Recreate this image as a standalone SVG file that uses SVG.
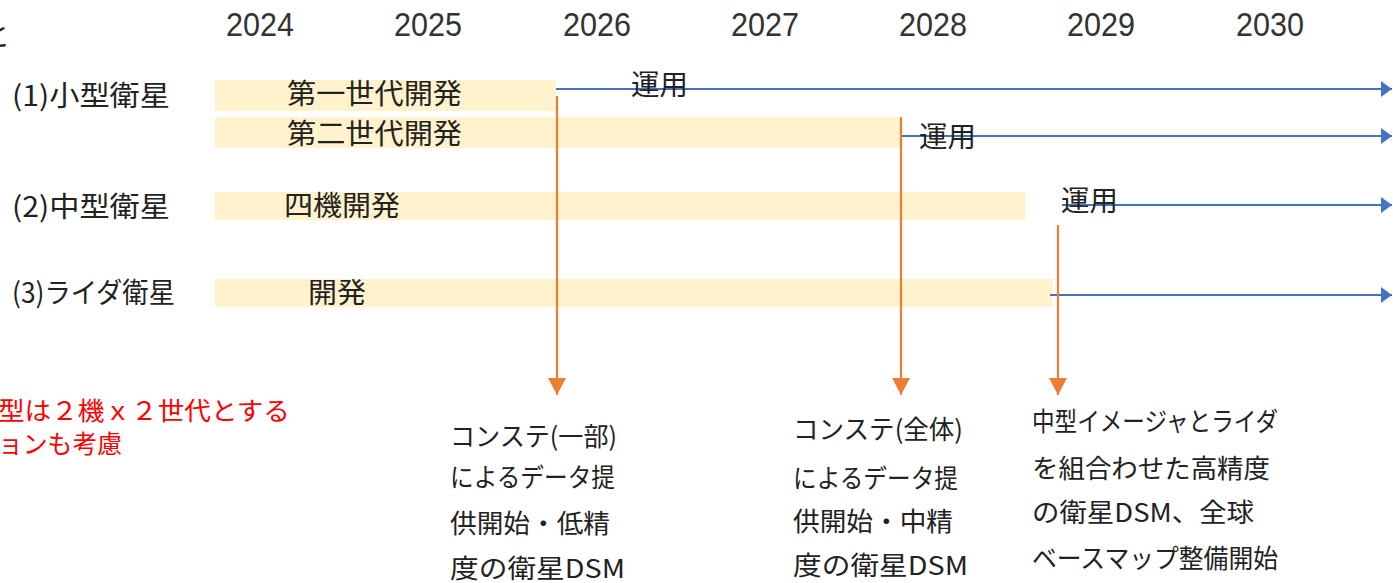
<svg xmlns="http://www.w3.org/2000/svg" width="1393" height="583" viewBox="0 0 1393 583">
<style>
.yr{font-family:"Liberation Sans",Arial,sans-serif;font-size:33px;fill:#333}
.jp{font-family:"Noto Sans CJK JP","Noto Sans",sans-serif;fill:#222}
.lbl{font-size:28px}
.bar{fill:#FFF2CC}
.txt{font-size:26px}
.red{font-family:"Noto Sans CJK JP","Noto Sans",sans-serif;font-size:25px;fill:#FF0000}
.blue{stroke:#4472C4;stroke-width:2.2;fill:none}
.org{stroke:#ED7D31;stroke-width:2.2;fill:none}
</style>
<defs>
<marker id="ab" markerUnits="userSpaceOnUse" markerWidth="12" markerHeight="16" refX="11" refY="8" orient="auto">
<path d="M0,0 L11,8 L0,16 Z" fill="#4472C4"/>
</marker>
<marker id="ao" markerUnits="userSpaceOnUse" markerWidth="18" markerHeight="18" refX="17" refY="9" orient="auto">
<path d="M0,0 L17,9 L0,18 Z" fill="#ED7D31"/>
</marker>
</defs>
<rect width="1393" height="583" fill="#fff"/>
<text class="jp lbl" x="-18" y="46">と</text>
<g id="years">
<text class="yr" x="260" y="36" text-anchor="middle" textLength="68" lengthAdjust="spacingAndGlyphs">2024</text>
<text class="yr" x="428" y="36" text-anchor="middle" textLength="68" lengthAdjust="spacingAndGlyphs">2025</text>
<text class="yr" x="597" y="36" text-anchor="middle" textLength="68" lengthAdjust="spacingAndGlyphs">2026</text>
<text class="yr" x="765" y="36" text-anchor="middle" textLength="68" lengthAdjust="spacingAndGlyphs">2027</text>
<text class="yr" x="933" y="36" text-anchor="middle" textLength="68" lengthAdjust="spacingAndGlyphs">2028</text>
<text class="yr" x="1101" y="36" text-anchor="middle" textLength="68" lengthAdjust="spacingAndGlyphs">2029</text>
<text class="yr" x="1270" y="36" text-anchor="middle" textLength="68" lengthAdjust="spacingAndGlyphs">2030</text>
</g>
<g id="row-labels">
<text class="jp lbl" x="12" y="106" textLength="158" lengthAdjust="spacingAndGlyphs">(1)小型衛星</text>
<text class="jp lbl" x="12" y="217" textLength="158" lengthAdjust="spacingAndGlyphs">(2)中型衛星</text>
<text class="jp lbl" x="12" y="303" textLength="163" lengthAdjust="spacingAndGlyphs">(3)ライダ衛星</text>
</g>
<g id="bar1">
<rect class="bar" x="215" y="80" width="341" height="31"/>
<text class="jp lbl" x="287" y="104" textLength="175" lengthAdjust="spacingAndGlyphs">第一世代開発</text>
</g>
<g id="bar2">
<rect class="bar" x="215" y="117" width="686" height="31"/>
<text class="jp lbl" x="287" y="144" textLength="175" lengthAdjust="spacingAndGlyphs">第二世代開発</text>
</g>
<g id="bar3">
<rect class="bar" x="215" y="192" width="810" height="28"/>
<text class="jp lbl" x="284" y="216" textLength="116" lengthAdjust="spacingAndGlyphs">四機開発</text>
</g>
<g id="bar4">
<rect class="bar" x="215" y="279" width="838" height="28"/>
<text class="jp lbl" x="308" y="303" textLength="58" lengthAdjust="spacingAndGlyphs">開発</text>
</g>
<g id="connectors">
<line class="blue" x1="556" y1="89" x2="1392" y2="89" marker-end="url(#ab)"/>
<line class="blue" x1="901" y1="136" x2="1392" y2="136" marker-end="url(#ab)"/>
<line class="blue" x1="1062" y1="205" x2="1392" y2="205" marker-end="url(#ab)"/>
<line class="blue" x1="1050" y1="295" x2="1392" y2="295" marker-end="url(#ab)"/>
<line class="org" x1="557" y1="96" x2="557" y2="395" marker-end="url(#ao)"/>
<line class="org" x1="901" y1="117" x2="901" y2="395" marker-end="url(#ao)"/>
<line class="org" x1="1058" y1="225" x2="1058" y2="395" marker-end="url(#ao)"/>
</g>
<g id="ops-labels">
<text class="jp lbl" x="631" y="95" textLength="57" lengthAdjust="spacingAndGlyphs">運用</text>
<text class="jp lbl" x="919" y="147" textLength="57" lengthAdjust="spacingAndGlyphs">運用</text>
<text class="jp lbl" x="1061" y="211" textLength="57" lengthAdjust="spacingAndGlyphs">運用</text>
</g>
<g id="note">
<text class="red" x="-2" y="420" textLength="292" lengthAdjust="spacingAndGlyphs">型は２機ｘ２世代とする</text>
<text class="red" x="-2" y="453" textLength="124" lengthAdjust="spacingAndGlyphs">ョンも考慮</text>
</g>
<g id="result1">
<text class="jp txt" x="450" y="446" textLength="167" lengthAdjust="spacingAndGlyphs">コンステ(一部)</text>
<text class="jp txt" x="450" y="487" textLength="165" lengthAdjust="spacingAndGlyphs">によるデータ提</text>
<text class="jp txt" x="450" y="533" textLength="160" lengthAdjust="spacingAndGlyphs">供開始・低精</text>
<text class="jp txt" x="450" y="578" textLength="175" lengthAdjust="spacingAndGlyphs">度の衛星DSM</text>
</g>
<g id="result2">
<text class="jp txt" x="793" y="439" textLength="170" lengthAdjust="spacingAndGlyphs">コンステ(全体)</text>
<text class="jp txt" x="793" y="488" textLength="165" lengthAdjust="spacingAndGlyphs">によるデータ提</text>
<text class="jp txt" x="793" y="531" textLength="160" lengthAdjust="spacingAndGlyphs">供開始・中精</text>
<text class="jp txt" x="793" y="575" textLength="175" lengthAdjust="spacingAndGlyphs">度の衛星DSM</text>
</g>
<g id="result3">
<text class="jp txt" x="1032" y="431" textLength="246" lengthAdjust="spacingAndGlyphs">中型イメージャとライダ</text>
<text class="jp txt" x="1032" y="478" textLength="238" lengthAdjust="spacingAndGlyphs">を組合わせた高精度</text>
<text class="jp txt" x="1032" y="522" textLength="222" lengthAdjust="spacingAndGlyphs">の衛星DSM、全球</text>
<text class="jp txt" x="1032" y="568" textLength="246" lengthAdjust="spacingAndGlyphs">ベースマップ整備開始</text>
</g>
</svg>
